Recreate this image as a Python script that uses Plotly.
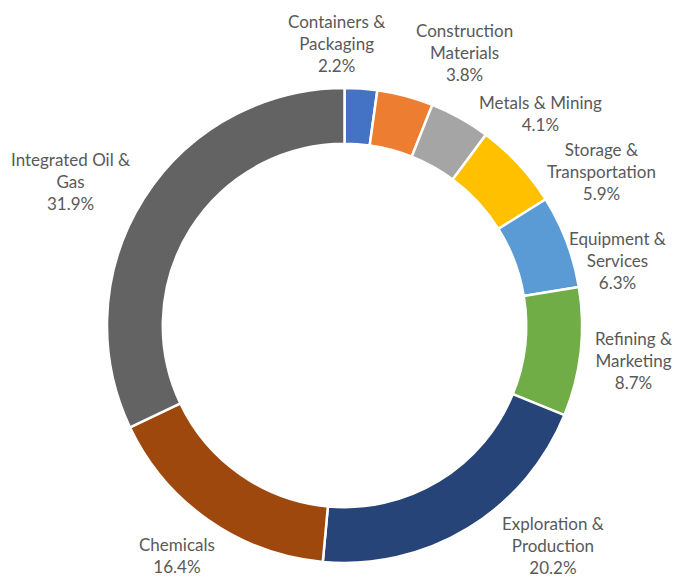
import plotly.graph_objects as go

# sector shares (%), clockwise from 12 o'clock
sectors = ["Containers &<br>Packaging", "Construction<br>Materials", "Metals & Mining",
           "Storage &<br>Transportation", "Equipment &<br>Services", "Refining &<br>Marketing",
           "Exploration &<br>Production", "Chemicals", "Integrated Oil &<br>Gas"]
shares = [2.2, 3.8, 4.1, 5.9, 6.3, 8.7, 20.2, 16.4, 31.9]
colors = ["#4472C4", "#ED7D31", "#A5A5A5", "#FFC000", "#5B9BD5",
          "#70AD47", "#264478", "#9E480E", "#636363"]

# label centres in window pixels (Excel best-fit placement)
label_px = [(336, 44), (464, 52), (540, 113), (601, 172), (617, 260),
            (633, 360), (553, 545), (177, 555), (70, 181)]

# the page body has an 8px margin, so work in a slightly smaller figure
OFF = 8
W, H = 690 - OFF, 577 - OFF
cx, cy, r = 344.5 - OFF, 325.5 - OFF, 237.5

fig = go.Figure(go.Pie(
    labels=sectors, values=shares, hole=0.765, sort=False,
    direction="clockwise", rotation=0, textinfo="none",
    marker=dict(colors=colors, line=dict(color="white", width=2.5)),
    domain=dict(x=[(cx - r) / W, (cx + r) / W],
                y=[(H - cy - r) / H, (H - cy + r) / H]),
    hoverinfo="label+percent",
))

for name, val, (px_, py_) in zip(sectors, shares, label_px):
    fig.add_annotation(x=(px_ - OFF) / W, y=1 - (py_ - OFF) / H,
                       xref="paper", yref="paper",
                       text=f"{name}<br>{val}%", showarrow=False,
                       xanchor="center", yanchor="middle", align="center",
                       font=dict(family="Lato", size=17, color="#595959"))

fig.update_layout(width=W, height=H, showlegend=False,
                  margin=dict(l=0, r=0, t=0, b=0),
                  paper_bgcolor="white", plot_bgcolor="white")

fig.write_html("out.html")
